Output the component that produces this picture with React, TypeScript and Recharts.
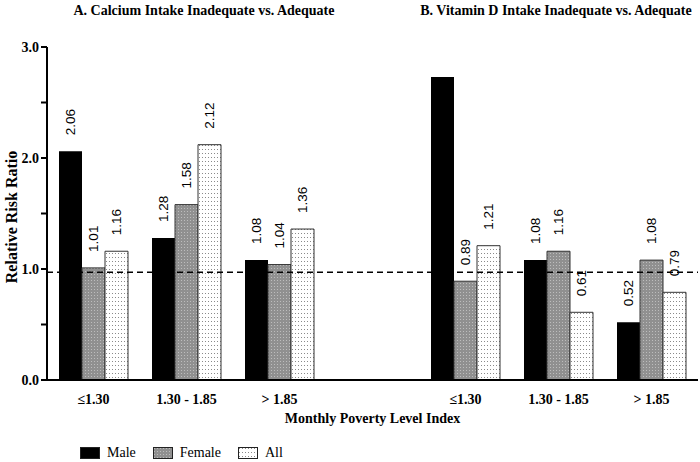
import React from 'react';
import { BarChart, Bar, XAxis, YAxis, ReferenceLine, LabelList } from 'recharts';

// poverty level groups; the blank entry is the gap between panel A and panel B
const CATEGORIES = ['≤1.30', '1.30 - 1.85', '> 1.85', '', '≤1.30', '1.30 - 1.85', '> 1.85'];
const MALE = [2.06, 1.28, 1.08, null, 2.73, 1.08, 0.52];
const FEMALE = [1.01, 1.58, 1.04, null, 0.89, 1.16, 1.08];
const ALL = [1.16, 2.12, 1.36, null, 1.21, 0.61, 0.79];
const Y_TICKS = [0, 0.5, 1, 1.5, 2, 2.5, 3];
const REFERENCE = 0.97;

const SERIES = [
  { key: 'male', name: 'Male', fill: '#000000' },
  { key: 'female', name: 'Female', fill: 'url(#femaleDots)' },
  { key: 'all', name: 'All', fill: 'url(#allDots)' },
];

const data = CATEGORIES.map((cat, i) => ({
  cat,
  male: MALE[i],
  female: FEMALE[i],
  all: ALL[i],
}));

const serif = '"Liberation Serif", "Times New Roman", serif';
const sans = '"Liberation Sans", Arial, sans-serif';

const ValueLabel = (props: any) => {
  const { x, y, width, value } = props;
  // no room above the tallest bar, the source leaves it unlabelled
  if (value == null || value > 2.6) return null;
  const cx = x + width / 2;
  const ty = y - 16;
  return (
    <text
      x={cx}
      y={ty}
      transform={`rotate(-90, ${cx}, ${ty})`}
      textAnchor="start"
      dominantBaseline="central"
      fontFamily={sans}
      fontSize={13.5}
      fill="#000"
    >
      {value.toFixed(2)}
    </text>
  );
};

const YTitle = () => {
  const cx = 11;
  const cy = 217;
  return (
    <text
      x={cx}
      y={cy}
      transform={`rotate(-90, ${cx}, ${cy})`}
      textAnchor="middle"
      dominantBaseline="central"
      fontFamily={serif}
      fontWeight="bold"
      fontSize={16}
      fill="#000"
    >
      Relative Risk Ratio
    </text>
  );
};

const Swatch = ({ fill }: { fill: string }) => (
  <svg width={20} height={12} style={{ marginRight: 7 }}>
    <rect x={0.5} y={0.5} width={19} height={11} fill={fill} stroke="#222" strokeWidth={1} />
  </svg>
);

export default function App() {
  return (
    <div style={{ position: 'absolute', left: 0, top: 0, width: 700, height: 462, background: '#fff' }}>
      <svg width={0} height={0} style={{ position: 'absolute' }}>
        <defs>
          <pattern id="femaleDots" width={3} height={3} patternUnits="userSpaceOnUse">
            <rect width={3} height={3} fill="#909090" />
            <rect x={1} y={1} width={1} height={1} fill="#bdbdbd" />
          </pattern>
          <pattern id="allDots" width={3} height={4} patternUnits="userSpaceOnUse">
            <rect width={3} height={4} fill="#ffffff" />
            <rect x={1} y={1} width={1} height={1} fill="#8a8a8a" />
          </pattern>
        </defs>
      </svg>

      <div style={{ position: 'absolute', left: 204, top: 3, transform: 'translateX(-50%)', whiteSpace: 'nowrap', fontFamily: serif, fontWeight: 'bold', fontSize: 14 }}>
        A. Calcium Intake Inadequate vs. Adequate
      </div>
      <div style={{ position: 'absolute', left: 556, top: 3, transform: 'translateX(-50%)', whiteSpace: 'nowrap', fontFamily: serif, fontWeight: 'bold', fontSize: 14 }}>
        B. Vitamin D Intake Inadequate vs. Adequate
      </div>

      <BarChart
        width={700}
        height={462}
        data={data}
        margin={{ top: 47, right: 2, bottom: 42, left: 5 }}
        barGap={0}
        barSize={23}
      >
        <XAxis
          dataKey="cat"
          tickLine={false}
          axisLine={{ stroke: '#000', strokeWidth: 2 }}
          tick={{ fill: '#000', fontFamily: serif, fontWeight: 'bold', fontSize: 14 }}
          tickMargin={8}
          interval={0}
          height={40}
          label={{
            value: 'Monthly Poverty Level Index',
            position: 'insideBottom',
            offset: -3,
            fill: '#000',
            fontFamily: serif,
            fontWeight: 'bold',
            fontSize: 14,
          }}
        />
        <YAxis
          width={42}
          domain={[0, 3]}
          ticks={Y_TICKS}
          interval={0}
          tickSize={6}
          tickLine={{ stroke: '#000', strokeWidth: 2 }}
          axisLine={{ stroke: '#000', strokeWidth: 2 }}
          tickFormatter={(v: number) => (Number.isInteger(v) ? v.toFixed(1) : '')}
          tick={{ fill: '#000', fontFamily: serif, fontWeight: 'bold', fontSize: 14 }}
          label={<YTitle />}
        />
        {SERIES.map((s) => (
          <Bar
            key={s.key}
            dataKey={s.key}
            name={s.name}
            fill={s.fill}
            stroke={s.key === 'male' ? '#000' : '#333'}
            strokeWidth={s.key === 'male' ? 0 : 1}
            isAnimationActive={false}
          >
            <LabelList dataKey={s.key} content={<ValueLabel />} />
          </Bar>
        ))}
        <ReferenceLine y={REFERENCE} stroke="#000" strokeWidth={1.5} strokeDasharray="6 4" />
      </BarChart>

      <div style={{ position: 'absolute', left: 80, top: 445, display: 'flex', alignItems: 'center', fontFamily: serif, fontSize: 14 }}>
        {SERIES.map((s) => (
          <div key={s.key} style={{ display: 'flex', alignItems: 'center', marginRight: 17 }}>
            <Swatch fill={s.fill} />
            <span>{s.name}</span>
          </div>
        ))}
      </div>
    </div>
  );
}
